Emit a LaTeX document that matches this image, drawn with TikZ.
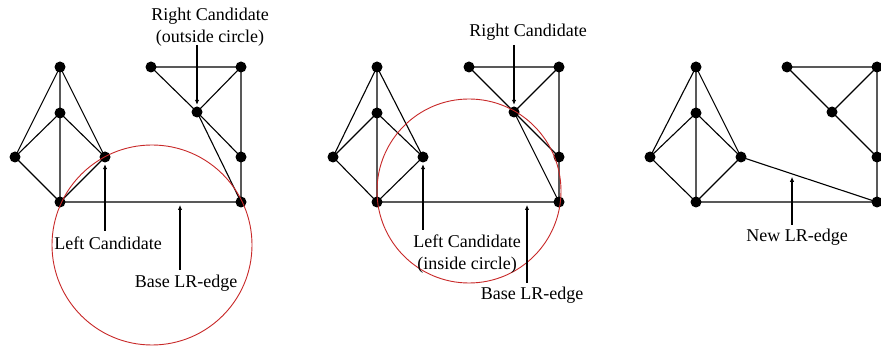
\documentclass[tikz,border=0pt]{standalone}
\usepackage{fontspec}
\setmainfont{Liberation Serif}
\usetikzlibrary{arrows.meta,calc}
\definecolor{circred}{RGB}{200,40,40}
\begin{document}
\begin{tikzpicture}[x=1pt,y=-1pt,
  dot/.style={circle,fill=black,inner sep=0pt,minimum size=11pt},
  edge/.style={line width=1.1pt},
  ptr/.style={line width=1.1pt,-{Latex[length=5pt,width=4.5pt]},shorten >=1.5pt},
  lbl/.style={font=\fontsize{18}{22}\selectfont,align=center,inner sep=0pt},
  ring/.style={draw=circred,line width=0.9pt}]
\useasboundingbox (0,0) rectangle (881,347);
\fill[white] (0,0) rectangle (881,347);
% ---------------- panel 1 ----------------
\node[dot] (a1) at (60,67) {};
\node[dot] (a2) at (60,113) {};
\node[dot] (a3) at (15,157) {};
\node[dot] (a4) at (105,157) {};
\node[dot] (a5) at (60,202) {};
\node[dot] (a6) at (151,67) {};
\node[dot] (a7) at (241,67) {};
\node[dot] (a8) at (197,112) {};
\node[dot] (a9) at (241,157) {};
\node[dot] (a10) at (241,202) {};
\draw[edge] (a1.center)--(a2.center) (a1.center)--(a3.center) (a1.center)--(a4.center)
  (a2.center)--(a3.center) (a2.center)--(a4.center) (a2.center)--(a5.center)
  (a3.center)--(a5.center) (a4.center)--(a5.center) (a5.center)--(a10.center)
  (a6.center)--(a7.center) (a6.center)--(a8.center) (a7.center)--(a8.center)
  (a7.center)--(a9.center) (a8.center)--(a9.center) (a8.center)--(a10.center)
  (a9.center)--(a10.center);
\draw[ring] (152,245) circle[radius=100];
\node[lbl] (ta1) at (210,27) {Right Candidate\\(outside circle)};
\coordinate (sa1) at (197,45);
\draw[ptr] (sa1) -- (a8);
\node[lbl] (ta2) at (108,243) {Left Candidate};
\coordinate (sa2) at (105,231);
\draw[ptr] (sa2) -- (a4);
\node[lbl] (ta3) at (186,283) {Base LR-edge};
\coordinate (sa3) at (180,270);
\coordinate (ea3) at (180,205);
\draw[ptr,shorten >=0pt] (sa3) -- (ea3);
% ---------------- panel 2 ----------------
\node[dot] (b1) at (377,67) {};
\node[dot] (b2) at (377,113) {};
\node[dot] (b3) at (333,157) {};
\node[dot] (b4) at (423,157) {};
\node[dot] (b5) at (377,202) {};
\node[dot] (b6) at (469,67) {};
\node[dot] (b7) at (559,67) {};
\node[dot] (b8) at (514,112) {};
\node[dot] (b9) at (559,157) {};
\node[dot] (b10) at (559,202) {};
\draw[edge] (b1.center)--(b2.center) (b1.center)--(b3.center) (b1.center)--(b4.center)
  (b2.center)--(b3.center) (b2.center)--(b4.center) (b2.center)--(b5.center)
  (b3.center)--(b5.center) (b4.center)--(b5.center) (b5.center)--(b10.center)
  (b6.center)--(b7.center) (b6.center)--(b8.center) (b7.center)--(b8.center)
  (b7.center)--(b9.center) (b8.center)--(b9.center) (b8.center)--(b10.center)
  (b9.center)--(b10.center);
\draw[ring] (469,191) circle[radius=92];
\node[lbl] (tb1) at (528,32) {Right Candidate};
\coordinate (sb1) at (514,45);
\draw[ptr] (sb1) -- (b8);
\node[lbl] (tb2) at (467,254) {Left Candidate\\(inside circle)};
\coordinate (sb2) at (423,230);
\draw[ptr] (sb2) -- (b4);
\node[lbl] (tb3) at (532,295) {Base LR-edge};
\coordinate (sb3) at (527,283);
\coordinate (eb3) at (527,205);
\draw[ptr,shorten >=0pt] (sb3) -- (eb3);
% ---------------- panel 3 ----------------
\node[dot] (c1) at (696,67) {};
\node[dot] (c2) at (696,113) {};
\node[dot] (c3) at (650,157) {};
\node[dot] (c4) at (741,157) {};
\node[dot] (c5) at (696,202) {};
\node[dot] (c6) at (787,67) {};
\node[dot] (c7) at (877,67) {};
\node[dot] (c8) at (832,112) {};
\node[dot] (c9) at (877,157) {};
\node[dot] (c10) at (877,202) {};
\draw[edge] (c1.center)--(c2.center) (c1.center)--(c3.center) (c1.center)--(c4.center)
  (c2.center)--(c3.center) (c2.center)--(c4.center) (c2.center)--(c5.center)
  (c3.center)--(c5.center) (c4.center)--(c5.center) (c5.center)--(c10.center)
  (c6.center)--(c7.center) (c6.center)--(c8.center) (c7.center)--(c8.center)
  (c7.center)--(c9.center) (c8.center)--(c9.center)
  (c9.center)--(c10.center) (c4.center)--(c10.center);
\node[lbl] (tc1) at (797,237) {New LR-edge};
\coordinate (sc1) at (792,225);
\coordinate (ec1) at ($(c4.center)!0.375!(c10.center)+(0,3)$);
\draw[ptr,shorten >=0pt] (sc1) -- (ec1);
\end{tikzpicture}
\end{document}
